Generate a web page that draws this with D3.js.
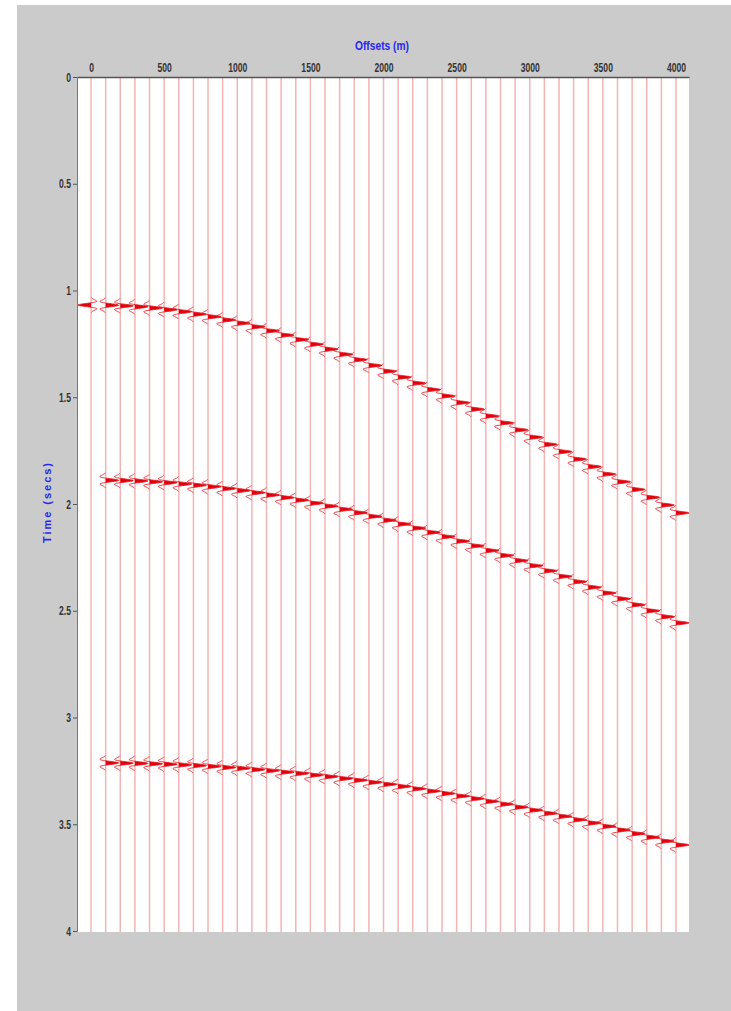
<!DOCTYPE html>
<html>
<head>
<meta charset="utf-8">
<script src="https://cdn.jsdelivr.net/npm/d3@7"></script>
<style>
  body { margin: 0; background: #fff; }
  svg { display: block; }
  text { font-family: "Liberation Sans", Arial, sans-serif; font-weight: bold; }
</style>
</head>
<body>
<svg id="chart" width="731" height="1011"></svg>
<script>
// Trace offsets (m)
const offsets = [0, 100, 200, 300, 400, 500, 600, 700, 800, 900, 1000,
  1100, 1200, 1300, 1400, 1500, 1600, 1700, 1800, 1900, 2000,
  2100, 2200, 2300, 2400, 2500, 2600, 2700, 2800, 2900, 3000,
  3100, 3200, 3300, 3400, 3500, 3600, 3700, 3800, 3900, 4000];

// Picked two-way times (s) of the three reflections on each trace
const reflector1 = [1.068, 1.069, 1.072, 1.076, 1.082, 1.090, 1.099, 1.111, 1.123, 1.138, 1.153,
  1.170, 1.189, 1.209, 1.230, 1.252, 1.275, 1.299, 1.324, 1.351, 1.378,
  1.406, 1.434, 1.464, 1.494, 1.525, 1.556, 1.588, 1.620, 1.653, 1.687,
  1.721, 1.755, 1.790, 1.825, 1.860, 1.896, 1.932, 1.969, 2.005, 2.042];
const reflector2 = [null, 1.889, 1.890, 1.892, 1.896, 1.900, 1.906, 1.912, 1.919, 1.928, 1.937,
  1.947, 1.958, 1.970, 1.982, 1.996, 2.010, 2.025, 2.041, 2.058, 2.076,
  2.094, 2.113, 2.133, 2.153, 2.174, 2.196, 2.218, 2.241, 2.265, 2.289,
  2.313, 2.339, 2.364, 2.390, 2.417, 2.444, 2.472, 2.500, 2.528, 2.557];
const reflector3 = [null, 3.213, 3.214, 3.215, 3.217, 3.219, 3.222, 3.225, 3.229, 3.234, 3.238,
  3.244, 3.249, 3.256, 3.262, 3.270, 3.277, 3.286, 3.294, 3.304, 3.313,
  3.323, 3.334, 3.345, 3.356, 3.368, 3.380, 3.393, 3.406, 3.420, 3.434,
  3.449, 3.463, 3.479, 3.494, 3.510, 3.527, 3.544, 3.561, 3.579, 3.597];
// Polarity of each reflection on the zero-offset trace (the rest are +1)
const zeroOffsetPolarity = [-1, 1, 1];
const reflectors = [reflector1, reflector2, reflector3];

// Axis ticks
const xTicks = [0, 500, 1000, 1500, 2000, 2500, 3000, 3500, 4000];
const yTicks = [0, 0.5, 1, 1.5, 2, 2.5, 3, 3.5, 4];
const xDomain = [-96, 4089];
const yDomain = [0, 4];

const svg = d3.select("#chart");

// Panel background
svg.append("rect").attr("x", 0).attr("y", 0).attr("width", 731).attr("height", 1011).attr("fill", "#ffffff");
svg.append("rect").attr("x", 17).attr("y", 5).attr("width", 714).attr("height", 1006).attr("fill", "#cbcbcb");

const plot = { left: 77, right: 689, top: 77, bottom: 932 };
const x = d3.scaleLinear().domain(xDomain).range([plot.left, plot.right]);
const y = d3.scaleLinear().domain(yDomain).range([plot.top, plot.bottom - 1]);

svg.append("rect")
  .attr("x", plot.left).attr("y", plot.top)
  .attr("width", plot.right - plot.left).attr("height", plot.bottom - plot.top)
  .attr("fill", "#ffffff");

// Trace baselines
svg.append("g").selectAll("line").data(offsets).join("line")
  .attr("x1", d => x(d)).attr("x2", d => x(d))
  .attr("y1", plot.top).attr("y2", plot.bottom)
  .attr("stroke", "#f3b4b4").attr("stroke-width", 1.5);

// Ricker wavelet used to draw each reflection on the traces
const freq = 22;
function ricker(tau) {
  const a = Math.PI * Math.PI * freq * freq * tau * tau;
  return (1 - 2 * a) * Math.exp(-a);
}
const gain = 13;
const halfWin = 0.035, dt = 0.001;

const wiggles = [];
offsets.forEach((off, i) => {
  reflectors.forEach((times, r) => {
    const t0 = times[i];
    if (t0 == null) return;
    const sign = i === 0 ? zeroOffsetPolarity[r] : 1;
    const pts = [];
    for (let tau = -halfWin; tau <= halfWin + 1e-9; tau += dt) {
      pts.push({ t: t0 + tau, v: sign * ricker(tau) });
    }
    wiggles.push({ off, sign, pts });
  });
});

const wg = svg.append("g");
wiggles.forEach(w => {
  const bx = x(w.off);
  // filled main lobe
  const fillArea = d3.area()
    .y(d => y(d.t))
    .x0(bx)
    .x1(d => bx + gain * (w.sign > 0 ? Math.max(0, d.v) : Math.min(0, d.v)));
  wg.append("path").attr("d", fillArea(w.pts)).attr("fill", "#e3000c");
  const line = d3.line()
    .x(d => bx + gain * d.v)
    .y(d => y(d.t));
  wg.append("path").attr("d", line(w.pts))
    .attr("fill", "none").attr("stroke", "#e41a22").attr("stroke-width", 1)
    .attr("stroke-opacity", 0.85);
});

// Narrow lettering for the axis text
function condense(sel, factor) {
  sel.each(function () {
    const len = this.getComputedTextLength();
    d3.select(this).attr("textLength", len * factor).attr("lengthAdjust", "spacingAndGlyphs");
  });
}

// Axes
const xAxis = svg.append("g").attr("transform", `translate(0,${plot.top})`)
  .call(d3.axisTop(x).tickValues(xTicks).tickSize(0).tickPadding(5).tickFormat(d3.format("d")));
xAxis.select(".domain").attr("stroke", "#555").attr("stroke-width", 1.5);
xAxis.selectAll("text").attr("fill", "#333").attr("font-size", 13)
  .attr("font-family", "\"Liberation Sans\", Arial, sans-serif").attr("font-weight", "bold");
condense(xAxis.selectAll("text"), 0.66);

const yAxis = svg.append("g").attr("transform", `translate(${plot.left},0)`)
  .call(d3.axisLeft(y).tickValues(yTicks).tickSize(4).tickPadding(2).tickFormat(d => String(d)));
yAxis.select(".domain").attr("stroke", "#777").attr("stroke-width", 1);
yAxis.selectAll(".tick line").attr("stroke", "#555");
yAxis.selectAll("text").attr("fill", "#333").attr("font-size", 13)
  .attr("font-family", "\"Liberation Sans\", Arial, sans-serif").attr("font-weight", "bold");
condense(yAxis.selectAll("text"), 0.66);

// Axis titles
svg.append("text")
  .attr("x", 382).attr("y", 50)
  .attr("text-anchor", "middle")
  .attr("font-size", 13)
  .attr("fill", "#2828f0")
  .attr("textLength", 54).attr("lengthAdjust", "spacingAndGlyphs")
  .text("Offsets (m)");

svg.append("text")
  .attr("transform", "translate(51,503) rotate(-90)")
  .attr("text-anchor", "middle")
  .attr("font-size", 11)
  .attr("fill", "#2828f0")
  .attr("textLength", 80).attr("lengthAdjust", "spacing")
  .text("Time (secs)");
</script>
</body>
</html>
